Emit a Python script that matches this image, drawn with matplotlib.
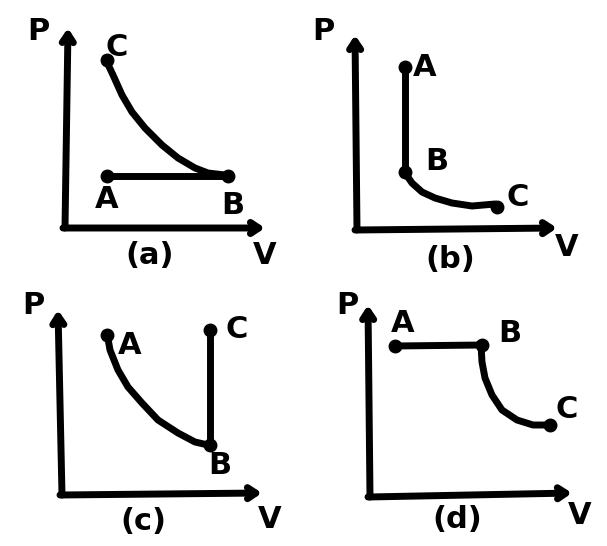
import matplotlib
matplotlib.use('Agg')
import matplotlib.pyplot as plt

# panel layout, in pixel coords (y grows downward)
panels = ['(a)', '(b)', '(c)', '(d)']
origins = [(65, 228), (357, 230), (62, 495), (370, 497)]
y_tops = [(68, 28), (355, 35), (58, 310), (368, 305)]
x_ends = [(265, 228), (557, 228), (262, 493), (572, 493)]
p_labels = [(38, 32), (323, 32), (33, 305), (347, 305)]
v_labels = [(265, 255), (567, 247), (270, 520), (580, 515)]
captions = [(150, 255), (450, 260), (143, 522), (457, 520)]

# straight segments of each process
lines_a = [[(107, 176), (228, 176)]]
lines_b = [[(405, 67), (405, 172)]]
lines_c = [[(210, 330), (210, 445)]]
lines_d = [[(395, 346), (482, 345)]]

# curved segments, traced point by point
curve_a = [(105, 58), (113, 75), (122, 95), (132, 112), (145, 128), (162, 145),
           (178, 158), (195, 168), (208, 173), (225, 175)]
curve_b = [(405, 173), (412, 183), (422, 192), (435, 198), (452, 203), (472, 206), (495, 204)]
curve_c = [(107, 333), (110, 350), (118, 370), (128, 387), (142, 403), (158, 420),
           (178, 433), (195, 442), (208, 445)]
curve_d = [(481, 345), (482, 362), (485, 378), (492, 395), (502, 410), (517, 420),
           (533, 425), (550, 425)]

# state points and their letters
dots_a = [(107, 60), (107, 176), (228, 176)]
dots_b = [(405, 67), (405, 172), (497, 207)]
dots_c = [(107, 335), (210, 330), (210, 445)]
dots_d = [(395, 346), (482, 345), (550, 425)]
letters_a = [('C', 117, 47), ('A', 107, 200), ('B', 233, 205)]
letters_b = [('A', 425, 68), ('B', 437, 162), ('C', 518, 198)]
letters_c = [('A', 130, 345), ('C', 237, 330), ('B', 220, 465)]
letters_d = [('A', 403, 323), ('B', 510, 333), ('C', 567, 410)]

fig = plt.figure(figsize=(6.07, 5.46), dpi=100)
ax = fig.add_axes([0, 0, 1, 1])
ax.set_xlim(0, 607)
ax.set_ylim(546, 0)
ax.axis('off')

lw = 5
txt = dict(fontsize=22, fontweight='heavy', ha='center', va='center', color='black')
arrow = dict(arrowstyle='->,head_length=0.6,head_width=0.4', lw=lw, color='black', shrinkA=0, shrinkB=0)

for i in range(4):
    ox, oy = origins[i]
    ax.annotate('', xy=y_tops[i], xytext=(ox, oy), arrowprops=arrow)
    ax.annotate('', xy=x_ends[i], xytext=(ox - 2, oy), arrowprops=arrow)
    ax.text(*p_labels[i], 'P', **txt)
    ax.text(*v_labels[i], 'V', **txt)
    ax.text(*captions[i], panels[i], **txt)

for segs, curve, dots, letters in [(lines_a, curve_a, dots_a, letters_a),
                                   (lines_b, curve_b, dots_b, letters_b),
                                   (lines_c, curve_c, dots_c, letters_c),
                                   (lines_d, curve_d, dots_d, letters_d)]:
    for seg in segs:
        ax.plot([p[0] for p in seg], [p[1] for p in seg], color='black', lw=lw, solid_capstyle='round')
    ax.plot([p[0] for p in curve], [p[1] for p in curve], color='black', lw=lw,
            solid_capstyle='round', solid_joinstyle='round')
    ax.plot([p[0] for p in dots], [p[1] for p in dots], 'o', color='black', markersize=9)
    for s, x, y in letters:
        ax.text(x, y, s, **txt)

fig.savefig('out.png', dpi=100)
